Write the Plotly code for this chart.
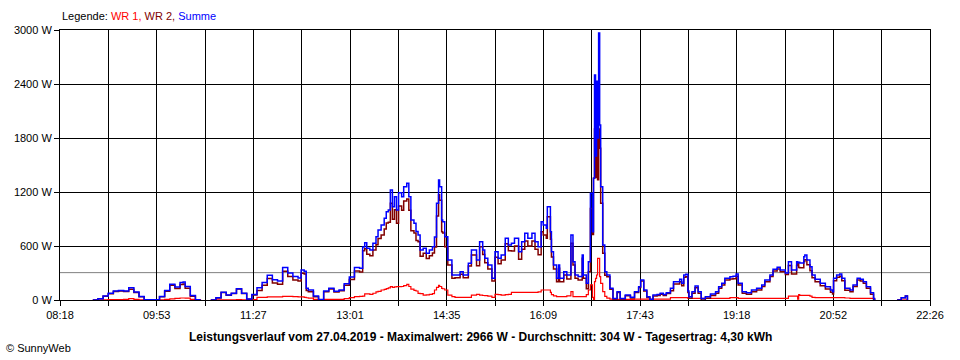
import plotly.graph_objects as go

# ---------------- data ----------------
TIMES = [
    "08:50", "08:55", "09:00", "09:05", "09:10", "09:15", "09:20", "09:25", "09:30", "09:35",
    "09:40", "09:45", "09:50", "09:55", "10:00", "10:05", "10:10", "10:15", "10:18", "10:20",
    "10:25", "10:30", "10:35", "10:40", "10:45", "10:50", "10:55", "11:00", "11:05", "11:10",
    "11:15", "11:20", "11:25", "11:30", "11:35", "11:40", "11:45", "11:50", "11:55", "12:00",
    "12:05", "12:10", "12:13", "12:16", "12:18", "12:20", "12:25", "12:30", "12:35", "12:40",
    "12:45", "12:50", "12:55", "13:00", "13:05", "13:10", "13:13", "13:15", "13:17", "13:20",
    "13:23", "13:26", "13:28", "13:31", "13:34", "13:36", "13:38", "13:40", "13:42", "13:44",
    "13:46", "13:48", "13:51", "13:53", "13:56", "13:58", "14:00", "14:03", "14:05", "14:07",
    "14:09", "14:12", "14:15", "14:18", "14:21", "14:23", "14:25", "14:27", "14:28", "14:30",
    "14:31", "14:33", "14:36", "14:40", "14:43", "14:48", "14:51", "14:56", "14:59", "15:04",
    "15:07", "15:10", "15:12", "15:15", "15:19", "15:22", "15:25", "15:28", "15:32", "15:35",
    "15:38", "15:41", "15:45", "15:48", "15:51", "15:54", "15:58", "16:01", "16:04", "16:07",
    "16:09", "16:12", "16:13", "16:16", "16:17", "16:19", "16:22", "16:24", "16:25", "16:29",
    "16:32", "16:36", "16:38", "16:40", "16:43", "16:47", "16:48", "16:51", "16:53", "16:55",
    "16:57", "16:58", "16:59", "17:00", "17:01", "17:02", "17:03", "17:04", "17:05", "17:07",
    "17:09", "17:11", "17:14", "17:17", "17:21", "17:24", "17:29", "17:34", "17:38", "17:42",
    "17:44", "17:47", "17:50", "17:53", "17:56", "18:00", "18:03", "18:06", "18:09", "18:13",
    "18:16", "18:19", "18:22", "18:24", "18:26", "18:28", "18:30", "18:31", "18:34", "18:37",
    "18:40", "18:43", "18:47", "18:52", "18:57", "19:00", "19:03", "19:06", "19:11", "19:14",
    "19:17", "19:19", "19:23", "19:27", "19:32", "19:37", "19:42", "19:45", "19:50", "19:53",
    "19:57", "20:00", "20:05", "20:08", "20:11", "20:16", "20:17", "20:18", "20:19", "20:23",
    "20:24", "20:26", "20:29", "20:31", "20:34", "20:39", "20:44", "20:49", "20:51", "20:52",
    "20:55", "20:58", "21:00", "21:03", "21:08", "21:11", "21:15", "21:18", "21:21", "21:24",
    "21:28", "21:31", "21:32", "21:40", "21:54", "21:58", "22:02", "22:04",
]

SUMME = [
    0, 15, 45, 75, 100, 105, 100, 135, 90, 40,
    3, 3, 2, 40, 105, 175, 145, 195, 200, 150,
    50, 2, 2, None, 0, 25, 85, 55, 75, 125,
    75, 10, 60, 135, 195, 275, 225, 210, 360, 300,
    260, 245, 333, 320, 130, 111, 44, 5, 100, 130,
    96, 110, 180, 255, 360, 352, 590, 637, 574, 556,
    630, 704, 778, 833, 907, 981, 1000, 1222, 1037, 1148,
    1000, 1193, 1148, 1259, 1296, 1148, 889, 852, 760, 722,
    556, 574, 519, 556, 593, 700, 1074, 1333, 1259, 889,
    870, 704, 444, 278, 278, 315, 278, 407, 556, 444,
    648, 556, 463, 389, 241, 537, 463, 500, 685, 611,
    630, 685, 537, 648, 741, 685, 741, 648, 593, 870,
    833, 796, 1037, 759, 537, 389, 241, 389, 241, 315,
    278, 722, 426, 278, 260, 500, 278, 185, 426, 1185,
    759, 1352, 2500, 1600, 2430, 1800, 2966, 1944, 1259, 611,
    315, 278, 130, 18, 92, 18, 55, 30, 92, 148,
    222, 111, 37, 7, 55, 60, 74, 60, 81, 130,
    204, 204, 230, 185, 278, 285, 100, 37, 92, 155,
    92, 18, 37, 67, 92, 148, 185, 241, 259, 263,
    289, 185, 92, 81, 111, 130, 167, 222, 278, 341,
    363, 333, 300, 426, 333, 426, 415, 420, 410, 481,
    500, 444, 370, 278, 230, 185, 148, 111, 92, 241,
    278, 289, 241, 130, 111, 167, 241, 230, 204, 148,
    81, 18, 0, None, 0, 25, 44, 0,
]

WR1 = [
    0, 0, 3, 5, 5, 5, 6, 15, 8, 3,
    2, 2, 2, 3, 8, 12, 18, 22, 22, 20,
    8, 2, 1, None, 0, 2, 3, 3, 3, 4,
    3, 2, 5, 30, 30, 35, 35, 35, 40, 40,
    37, 35, 35, 30, 25, 20, 8, 5, 7, 7,
    7, 7, 15, 26, 37, 40, 44, 67, 67, 63,
    75, 90, 95, 111, 118, 126, 135, 148, 140, 145,
    148, 148, 150, 160, 174, 150, 120, 108, 100, 74,
    70, 55, 58, 63, 70, 111, 140, 163, 150, 130,
    125, 111, 55, 37, 30, 30, 30, 30, 55, 63,
    55, 50, 48, 44, 30, 63, 60, 55, 60, 63,
    85, 85, 85, 85, 85, 85, 85, 85, 90, 111,
    111, 111, 111, 85, 60, 45, 37, 37, 37, 37,
    45, 92, 37, 37, 37, 37, 37, 60, 111, 167,
    30, 0, 204, 240, 278, 463, 463, 259, 185, 92,
    40, 20, 10, 8, 8, 8, 8, 8, 10, 10,
    10, 10, 10, 7, 10, 10, 10, 10, 10, 26,
    26, 26, 26, 26, 26, 26, 18, 18, 18, 18,
    18, 18, 18, 18, 18, 18, 18, 18, 26, 26,
    26, 18, 18, 18, 18, 18, 18, 18, 18, 18,
    18, 18, 18, 44, 44, 44, 10, 60, 52, 52,
    52, 52, 44, 30, 26, 26, 26, 26, 26, 26,
    26, 26, 26, 22, 18, 18, 18, 18, 18, 18,
    18, 10, 0, None, 0, 0, 0, 0,
]

WR2 = [
    0, 15, 42, 70, 95, 100, 94, 120, 82, 37,
    1, 1, 0, 37, 97, 163, 127, 173, 178, 130,
    42, 0, 1, None, 0, 23, 82, 52, 72, 121,
    72, 8, 55, 105, 165, 240, 190, 175, 320, 260,
    223, 210, 298, 290, 105, 91, 36, 0, 93, 123,
    89, 103, 165, 229, 323, 312, 546, 570, 507, 493,
    555, 614, 683, 722, 789, 855, 865, 1074, 897, 1003,
    852, 1045, 998, 1099, 1122, 998, 769, 744, 660, 648,
    486, 519, 461, 493, 523, 589, 934, 1170, 1109, 759,
    745, 593, 389, 241, 248, 285, 248, 377, 501, 381,
    593, 506, 415, 345, 211, 474, 403, 445, 625, 548,
    545, 600, 452, 563, 656, 600, 656, 563, 503, 759,
    722, 685, 926, 674, 477, 344, 204, 352, 204, 278,
    233, 630, 389, 241, 223, 463, 241, 125, 315, 1018,
    729, 1352, 1900, 1360, 1950, 1337, 1900, 1685, 1074, 519,
    275, 258, 120, 10, 84, 10, 47, 22, 82, 138,
    212, 101, 27, 0, 45, 50, 64, 50, 71, 104,
    178, 178, 204, 159, 252, 259, 82, 19, 74, 137,
    74, 0, 19, 49, 74, 130, 167, 223, 233, 237,
    263, 167, 74, 63, 93, 112, 149, 204, 260, 323,
    345, 315, 282, 382, 289, 382, 405, 360, 358, 429,
    448, 392, 326, 248, 204, 159, 122, 85, 66, 215,
    252, 263, 215, 108, 93, 149, 223, 212, 186, 130,
    63, 8, 0, None, 0, 25, 44, 0,
]

AVERAGE_W = 304
X_START = "08:18"
X_END = "22:26"
X_TICK_LABELS = ["08:18", "09:53", "11:27", "13:01", "14:35",
                 "16:09", "17:43", "19:18", "20:52", "22:26"]
Y_TICKS = [0, 600, 1200, 1800, 2400, 3000]
LEGEND_TEXT = ('Legende: <span style="color:#FF0000">WR 1,</span> '
               '<span style="color:#800000">WR 2,</span> '
               '<span style="color:#0000FF">Summe</span>')
TITLE = ("Leistungsverlauf vom 27.04.2019 - Maximalwert: 2966 W - "
         "Durchschnitt: 304 W - Tagesertrag: 4,30 kWh")
COPYRIGHT = "© SunnyWeb"


def to_min(s):
    h, m = s.split(":")
    return int(h) * 60 + int(m)


x = [to_min(t) for t in TIMES]
x0, x1 = to_min(X_START), to_min(X_END)
n_grid = 2 * (len(X_TICK_LABELS) - 1)
tickvals = [x0 + i * (x1 - x0) / n_grid for i in range(n_grid + 1)]
ticktext = [X_TICK_LABELS[i // 2] if i % 2 == 0 else "" for i in range(n_grid + 1)]

FONT = "Liberation Sans, Arial, sans-serif"

fig = go.Figure()
fig.add_trace(go.Scatter(x=x, y=WR1, mode="lines", name="WR 1",
                         line=dict(color="#FF0000", width=1.2, shape="hv")))
fig.add_trace(go.Scatter(x=x, y=WR2, mode="lines", name="WR 2",
                         line=dict(color="#800000", width=1.5, shape="hv")))
fig.add_trace(go.Scatter(x=x, y=SUMME, mode="lines", name="Summe",
                         line=dict(color="#0000FF", width=1.5, shape="hv")))

fig.add_shape(type="line", xref="x", yref="y", x0=x0, x1=x1,
              y0=AVERAGE_W, y1=AVERAGE_W,
              line=dict(color="#808080", width=1), layer="below")

fig.update_layout(
    width=960, height=360,
    margin=dict(l=60, r=30, t=30, b=60),
    paper_bgcolor="white", plot_bgcolor="white",
    showlegend=False,
    hovermode=False,
    font=dict(family=FONT, size=11, color="black"),
    xaxis=dict(range=[x0, x1], tickmode="array", tickvals=tickvals, ticktext=ticktext,
               showgrid=True, gridcolor="black", gridwidth=1,
               showline=True, linecolor="black", linewidth=1, mirror=True,
               ticks="outside", ticklen=5, tickcolor="black", tickwidth=1,
               zeroline=False, tickfont=dict(family=FONT, size=11, color="black")),
    yaxis=dict(range=[0, 3000], tickmode="array", tickvals=Y_TICKS,
               ticktext=[f"{v} W" for v in Y_TICKS],
               showgrid=True, gridcolor="black", gridwidth=1,
               showline=True, linecolor="black", linewidth=1, mirror=True,
               ticks="outside", ticklen=5, tickcolor="black", tickwidth=1,
               zeroline=False, tickfont=dict(family=FONT, size=11, color="black")),
    annotations=[
        dict(text=LEGEND_TEXT, xref="paper", yref="paper", x=0, y=1 + 13.5 / 270,
             xanchor="left", yanchor="middle", showarrow=False,
             font=dict(family=FONT, size=11, color="black")),
        dict(text="<b>" + TITLE + "</b>", xref="paper", yref="paper",
             x=(480 - 60) / 870, y=-(337 - 300) / 270,
             xanchor="center", yanchor="middle", showarrow=False,
             font=dict(family=FONT, size=12, color="black")),
        dict(text=COPYRIGHT, xref="paper", yref="paper",
             x=(4 - 60) / 870, y=-(348 - 300) / 270,
             xanchor="left", yanchor="middle", showarrow=False,
             font=dict(family=FONT, size=11, color="black")),
    ],
)

fig.write_html("out.html",
               config={"displayModeBar": False, "staticPlot": True},
               post_script="document.body.style.margin='0';document.body.style.overflow='hidden';")
